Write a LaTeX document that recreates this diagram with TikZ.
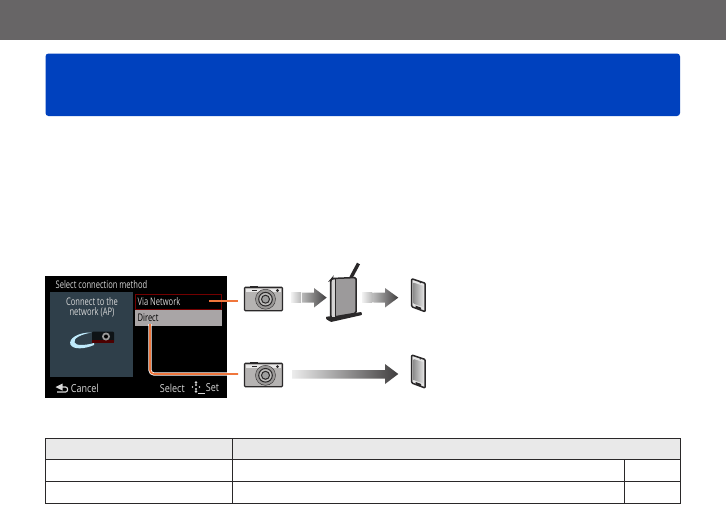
\documentclass[tikz,border=0pt]{standalone}
\usepackage{fontspec}
\setmainfont{Open Sans}
\usetikzlibrary{shadings,fadings}
\definecolor{bandgray}{HTML}{676566}
\definecolor{bluebar}{HTML}{0041BE}
\definecolor{headgray}{HTML}{E9E9E9}
\definecolor{panelblue}{HTML}{2F3F4A}
\definecolor{rowgray}{HTML}{A9A5A6}
\definecolor{callout}{HTML}{F0763C}
\definecolor{camgray}{HTML}{B5B3B2}
\definecolor{routerfront}{HTML}{9C9A9B}
\definecolor{routerside}{HTML}{D5D4D4}
\definecolor{inkdark}{HTML}{2A2829}
\definecolor{screentext}{HTML}{D8D8D8}
\tikzset{
  x=1pt,y=-1pt,
  screentxt/.style={text=screentext,inner sep=0pt,xscale=0.72,font=\fontsize{10.5}{10.5}\selectfont},
  softkey/.style={text=screentext,inner sep=0pt,anchor=west,xscale=0.82,font=\fontsize{11}{12}\selectfont},
  calloutcore/.style={draw=callout,line width=1.7pt,rounded corners=4pt},
  gridline/.style={draw=inkdark,line width=0.8pt},
}
\newcommand{\camicon}[2]{%
  \begin{scope}[shift={(#1,#2)}]
    \fill[inkdark] (6,-1) rectangle (14,1);
    \filldraw[fill=camgray,draw=inkdark,line width=1.3pt,rounded corners=1pt] (0.5,0.5) rectangle (38.5,24);
    \fill[white!70!camgray] (2,2) rectangle (37,5.5);
    \fill[inkdark] (8,2.8) rectangle (13,4.6);
    \draw[inkdark,line width=0.4pt,fill=camgray!85!black] (21.5,12.5) circle (10);
    \draw[inkdark,line width=1pt,fill=camgray!90!white] (21.5,12.5) circle (6.8);
    \draw[inkdark,line width=1pt,fill=gray!75] (21.5,12.5) circle (4);
    \fill[inkdark] (33.5,3.8) circle (1.6);
  \end{scope}}
\newcommand{\phoneicon}[2]{%
  \begin{scope}[shift={(#1,#2)}]
    \filldraw[fill=white!80!gray,draw=inkdark,line width=1.5pt,line join=round,rounded corners=1pt] (0,0) -- (13.5,4.5) -- (13.5,33) -- (0,28) -- cycle;
    \shade[left color=gray!85,right color=white!75!gray] (2,4) -- (11.8,7.2) -- (11.8,28.5) -- (2,25) -- cycle;
    \fill[inkdark] (4,27) -- (9.5,29) -- (9.5,31) -- (4,29) -- cycle;
    \fill[inkdark] (8.5,3.9) circle (0.7);
  \end{scope}}
\begin{document}
\begin{tikzpicture}
\useasboundingbox (0,0) rectangle (726,504);
\fill[white] (0,0) rectangle (726,504);
\fill[bandgray] (0,0) rectangle (726,40);
\fill[bluebar,rounded corners=3pt] (45.5,53.5) rectangle (680,116);

% camera screen
\fill[black] (45,276) rectangle (226.7,397.5);
\fill[panelblue] (50,292) rectangle (133,376.7);
\draw[draw=red!45!black,line width=0.7pt] (135.5,294.5) rectangle (221.5,309.5);
\fill[rowgray] (135,310) rectangle (221.7,326);
\node[screentxt,anchor=west] (title) at (55.5,285) {Select connection method};
\node[screentxt,align=center,font=\fontsize{10.5}{9.5}\selectfont] (info) at (92,307.5) {Connect to the\\network (AP)};
\node[screentxt,anchor=west] (via) at (137.5,302) {Via Network};
\node[screentxt,anchor=west,text=black] (direct) at (137.5,318) {Direct};
\node[softkey] (cancel) at (70.7,388) {Cancel};
\node[softkey] (select) at (159.7,388) {Select};
\node[softkey] (set) at (205.7,388) {Set};

% panel swoosh and small camera
\fill[white!75!cyan] (92,332.5) .. controls (78,332) and (68,339) .. (70.5,344.5) .. controls (73,350) and (85,349) .. (94,345) -- (94,343) .. controls (85,345.5) and (76,346) .. (74.5,342.5) .. controls (73,338) and (82,334) .. (92,332.5) -- cycle;
\fill[black!70!panelblue,rounded corners=1pt] (92,331.5) rectangle (114,342.5);
\fill[black!70!red] (92,339.5) rectangle (114,342.5);
\fill[gray!80] (106,336.5) circle (4);
\fill[black] (106,336.5) circle (2);

% back arrow
\fill[screentext] (62.5,383.5) -- (62.5,390.5) -- (55.5,387) -- cycle;
\draw[screentext,line width=1.2pt,rounded corners=2pt] (61,387) -- (67.5,387) -- (67.5,392) -- (57,392);
% joystick icon
\fill[screentext] (196,382.5) circle (1.4) (196,391.5) circle (1.4);
\fill[screentext] (196,385) circle (1.1) (196,389) circle (1.1);
\fill[screentext] (192.5,387) circle (0.9) (199.5,387) circle (0.9);
\draw[screentext,line width=0.9pt] (198,393) -- (205,393);

% callouts
\coordinate (viaend) at (238,300.7);
\coordinate (viastart) at (209,300.7);
\coordinate (dirstart) at (150,324);
\coordinate (dirbend) at (150,374);
\coordinate (dirend) at (238,374);
\draw[draw=callout,line width=1.7pt] (viastart) -- (viaend);
\draw[draw=white,line width=3.2pt,rounded corners=4pt] (dirstart) -- (dirbend) -- (dirend);
\draw[calloutcore] (dirstart) -- (dirbend) -- (dirend);

% diagram icons
\camicon{244}{286.7}
\camicon{244}{362.8}

% router
\draw[inkdark,line width=3.4pt] (351,277.5) -- (358.5,263.5);
\fill[inkdark,rounded corners=0.7pt] (326,316.8) -- (361.5,312) -- (362,315) -- (331,322) -- (326,319) -- cycle;
\filldraw[draw=inkdark,line width=1.5pt,fill=routerfront,rounded corners=1.5pt] (330.7,317.5) -- (330.7,280) -- (332,278.5) -- (356,277.5) -- (356,313.2) -- cycle;
\fill[routerside] (331.6,280) rectangle (335,316.5);
\draw[inkdark,line width=0.5pt] (335,279.2) -- (335,316.5);

\phoneicon{411.7}{278.7}
\phoneicon{411.7}{355}

% arrows
\shade[left color=white!90!gray,right color=gray!55] (291,292.5) rectangle (301,302.5);
\shade[left color=gray!55,right color=inkdark!90] (302,292.5) -- (314,292.5) -- (314,288) -- (326.7,297.6) -- (314,307.5) -- (314,302.5) -- (302,302.5) -- cycle;
\shade[left color=white!90!gray,right color=gray!55] (362,292.5) rectangle (372.3,302.5);
\shade[left color=gray!55,right color=inkdark!90] (373.3,292.5) -- (385,292.5) -- (385,288) -- (398.3,297.6) -- (385,307.5) -- (385,302.5) -- (373.3,302.5) -- cycle;
\shade[left color=white!85!gray,right color=inkdark!90] (292,370) -- (385,370) -- (385,364) -- (398.3,374) -- (385,384) -- (385,378.5) -- (292,378.5) -- cycle;

% table
\fill[headgray] (45.5,438.8) rectangle (680.7,459.3);
\draw[gridline] (45.5,438.8) rectangle (680.7,503.5);
\draw[gridline] (45.5,459.3) -- (680.7,459.3);
\draw[gridline] (45.5,481.3) -- (680.7,481.3);
\draw[gridline] (232.4,438.8) -- (232.4,503.5);
\draw[gridline] (624.3,459.3) -- (624.3,503.5);
\end{tikzpicture}
\end{document}
